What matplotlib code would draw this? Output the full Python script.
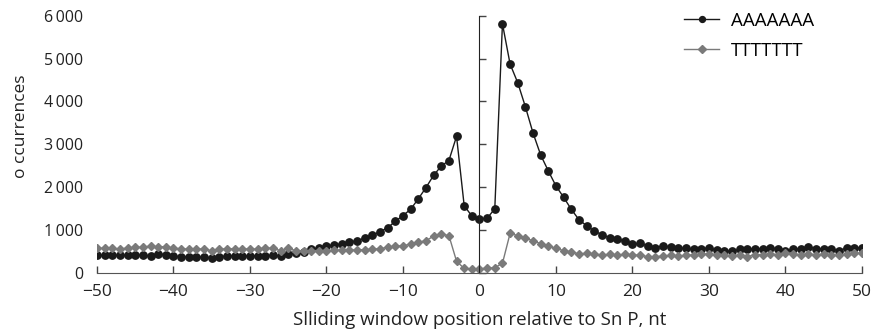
import matplotlib
matplotlib.use('Agg')
import matplotlib.pyplot as plt
import numpy as np

plt.rcParams['font.family'] = ['Open Sans', 'DejaVu Sans']

positions = list(range(-50, 51))

poly_a = [412, 412, 412, 412, 412, 420, 412, 397, 443, 428,
          390, 382, 374, 374, 374, 350, 366, 405, 404, 396,
          396, 404, 404, 412, 396, 443, 458, 497, 552, 590,
          629, 653, 676, 715, 754, 808, 878, 963, 1057, 1205,
          1340, 1485, 1730, 1990, 2276, 2494, 2622, 3186, 1569, 1329,
          1259,
          1275, 1499, 5811, 4872, 4436, 3876, 3263, 2751, 2378, 2028,
          1765, 1485, 1243, 1103, 979, 894, 816, 785, 754, 676,
          692, 629, 590, 637, 606, 583, 575, 552, 570, 582,
          536, 521, 505, 552, 552, 567, 567, 583, 567, 521,
          552, 567, 606, 567, 567, 552, 521, 583, 590, 590]

poly_t = [575, 575, 575, 559, 583, 598, 598, 630, 606, 614,
          575, 567, 552, 567, 552, 521, 552, 567, 559, 567,
          552, 559, 583, 575, 521, 575, 521, 521, 521, 521,
          521, 529, 537, 537, 537, 544, 552, 571, 595, 621,
          637, 672, 715, 754, 858, 905, 874, 275, 105, 92,
          100,
          110, 124, 226, 925, 870, 809, 753, 683, 629, 575,
          520, 490, 447, 458, 443, 420, 435, 420, 435, 420,
          412, 381, 381, 396, 412, 396, 412, 420, 439, 446,
          430, 427, 396, 427, 381, 427, 427, 443, 427, 458,
          443, 427, 443, 427, 443, 427, 412, 443, 474, 458]

x_ticks = [-50, -40, -30, -20, -10, 0, 10, 20, 30, 40, 50]
y_ticks = [0, 1000, 2000, 3000, 4000, 5000, 6000]

fig = plt.figure(figsize=(8.73, 3.33), dpi=100)
ax = fig.add_axes([0.1111, 0.1802, 0.8763, 0.7727])

ax.plot(positions, poly_a, color='#1a1a1a', lw=1.0, marker='o', ms=5.3,
        label='AAAAAAA')
ax.plot(positions, poly_t, color='#7a7a7a', lw=1.0, marker='D', ms=4.5,
        label='TTTTTTT')

ax.set_xlim(-50, 50)
ax.set_ylim(0, 6000)

for s in ['top', 'right']:
    ax.spines[s].set_visible(False)
ax.spines['left'].set_position(('data', 0))
ax.spines['left'].set_color('#222222')
ax.spines['bottom'].set_color('#555555')

ax.set_xticks(x_ticks)
ax.set_xticklabels([str(v).replace('-', '\u2212') for v in x_ticks])
ax.tick_params(axis='x', direction='in', length=5, width=1, color='#444444',
               labelsize=12.5, pad=8, labelcolor='#222222')
ax.set_yticks(y_ticks)
ax.tick_params(axis='y', direction='in', length=5, width=1, color='#444444',
               labelleft=False)

sec = ax.secondary_yaxis(0.0)
sec.set_yticks(y_ticks)
sec.set_yticklabels([f'{v:,}'.replace(',', '\u2009') for v in y_ticks])
sec.spines['left'].set_visible(False)
sec.tick_params(length=0, pad=10, labelsize=11.5, labelcolor='#222222')

ax.set_ylabel('o ccurrences', fontsize=12.5, color='#222222')
ax.yaxis.set_label_coords(-0.089, 0.571)

ax.set_xlabel('Slliding window position relative to Sn P, nt', fontsize=13.5,
              color='#222222', labelpad=8)

ax.legend(loc='upper left', bbox_to_anchor=(0.745, 1.08), frameon=False,
          fontsize=13.5, handlelength=1.9, handletextpad=0.6, labelspacing=0.62,
          markerscale=0.8)

fig.savefig('out.png', dpi=100)
